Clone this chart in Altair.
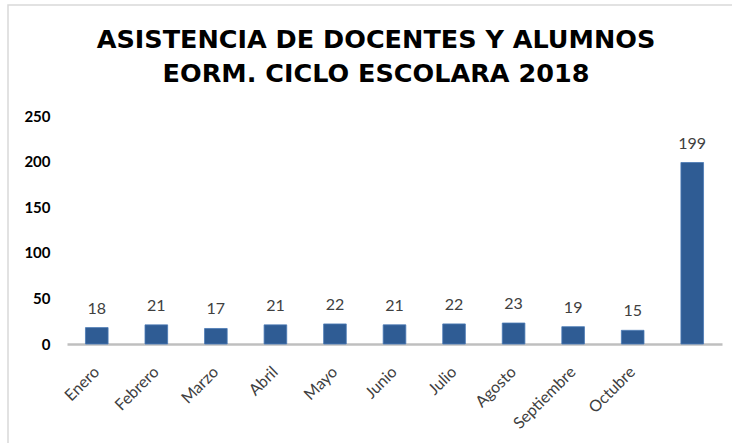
import altair as alt
import pandas as pd

meses = ["Enero", "Febrero", "Marzo", "Abril", "Mayo", "Junio", "Julio",
         "Agosto", "Septiembre", "Octubre", " "]
asistencia = [18, 21, 17, 21, 22, 21, 22, 23, 19, 15, 199]
titulo = ["ASISTENCIA DE DOCENTES Y ALUMNOS", "EORM. CICLO ESCOLARA 2018"]
y_ticks = [0, 50, 100, 150, 200, 250]

df = pd.DataFrame({"mes": meses, "valor": asistencia})

x_enc = alt.X("mes:N", sort=meses, title=None,
              scale=alt.Scale(paddingInner=0.62, paddingOuter=0.31),
              axis=alt.Axis(labelAngle=-45, labelAlign="right", labelBaseline="middle",
                            labelFont="Lato", labelFontSize=16, labelColor="#404040",
                            labelPadding=25, ticks=False, domainColor="#BFBFBF",
                            domainWidth=2.5, grid=False))
y_enc = alt.Y("valor:Q", title=None,
              scale=alt.Scale(domain=[0, 250], nice=False),
              axis=alt.Axis(values=y_ticks, labelFont="Lato", labelFontWeight="bold",
                            labelFontSize=15, labelColor="#000000", labelPadding=17,
                            ticks=False, domain=False, grid=False))

one = pd.DataFrame({"k": [0]})

frame = alt.Chart(one).mark_rect(fill="transparent", stroke="#D9D9D9", strokeWidth=1.5,
                                 clip=False).encode(
    x=alt.value(-59), x2=alt.value(690), y=alt.value(-111), y2=alt.value(360)
)

t1 = alt.Chart(one).mark_text(text=titulo[0], font="DejaVu Sans", fontSize=25.5,
                              fontWeight="bold", color="#000000", align="center",
                              baseline="alphabetic").encode(
    x=alt.value(309), y=alt.value(-68))
t2 = alt.Chart(one).mark_text(text=titulo[1], font="DejaVu Sans", fontSize=25.5,
                              fontWeight="bold", color="#000000", align="center",
                              baseline="alphabetic").encode(
    x=alt.value(309), y=alt.value(-34))

bars = alt.Chart(df).mark_bar(color="#2F5C94", stroke="#4A7AB5", strokeWidth=0.8).encode(
    x=x_enc, y=y_enc
)

labels = alt.Chart(df).mark_text(baseline="bottom", dy=-11, font="Lato", fontSize=16,
                                 color="#404040").encode(
    x=alt.X("mes:N", sort=meses), y=alt.Y("valor:Q"), text=alt.Text("valor:Q")
)

chart = alt.layer(frame, t1, t2, bars, labels).properties(
    width=655, height=228,
    background="white",
    autosize=alt.AutoSizeParams(type="none"),
    padding={"left": 67, "top": 116, "right": 10, "bottom": 99},
).configure_view(stroke=None, strokeWidth=0)

chart.save("out.html", embed_options={"renderer": "svg", "actions": False})
